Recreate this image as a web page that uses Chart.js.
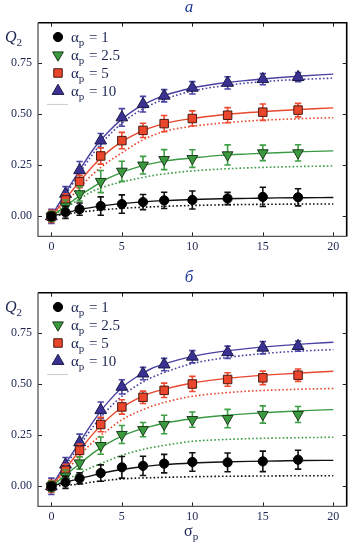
<!DOCTYPE html>
<html><head><meta charset="utf-8">
<script src="https://cdn.jsdelivr.net/npm/chart.js@4"></script>
<style>
body{margin:0;background:#fff;width:360px;height:546px;overflow:hidden;position:relative}
canvas{display:block;position:absolute;left:0}
</style>
</head><body>
<canvas id="ca" width="360" height="270" style="top:0"></canvas>
<canvas id="cb" width="360" height="276" style="top:270px"></canvas>
<script>
// ---------- data ----------
const alphaLabels = ['1', '2.5', '5', '10'];
const xObs = [0, 1, 2, 3.5, 5, 6.5, 8, 10, 12.5, 15, 17.5];
const xCurve = [0, 1, 2, 3, 4, 5, 6, 7, 8, 10, 12, 14, 16, 18, 20];
const xTicks = [0, 5, 10, 15, 20];
const yTicks = [0, 0.25, 0.5, 0.75];

// panel "а"
const a_obs1  = [0, 0.02, 0.035, 0.05, 0.06, 0.07, 0.078, 0.08, 0.087, 0.095, 0.093];
const a_obs25 = [0, 0.05, 0.11, 0.17, 0.22, 0.25, 0.277, 0.282, 0.30, 0.31, 0.31];
const a_obs5  = [0, 0.08, 0.17, 0.295, 0.37, 0.42, 0.453, 0.478, 0.494, 0.509, 0.519];
const a_obs10 = [0, 0.11, 0.225, 0.37, 0.483, 0.548, 0.589, 0.628, 0.652, 0.67, 0.68];
const a_err1  = [0.02, 0.03, 0.03, 0.045, 0.045, 0.037, 0.04, 0.044, 0.03, 0.047, 0.042];
const a_err25 = [0.025, 0.03, 0.035, 0.054, 0.049, 0.043, 0.049, 0.043, 0.049, 0.038, 0.04];
const a_err5  = [0.03, 0.03, 0.03, 0.04, 0.04, 0.035, 0.04, 0.037, 0.037, 0.04, 0.033];
const a_err10 = [0.035, 0.035, 0.043, 0.035, 0.043, 0.038, 0.03, 0.03, 0.03, 0.027, 0.022];
const a_fit1  = [0, 0.017, 0.033, 0.045, 0.055, 0.062, 0.068, 0.073, 0.077, 0.082, 0.086, 0.088, 0.09, 0.091, 0.092];
const a_dot1  = [0, 0.01, 0.02, 0.028, 0.034, 0.039, 0.043, 0.046, 0.049, 0.053, 0.056, 0.058, 0.059, 0.06, 0.06];
const a_fit25 = [0, 0.05, 0.1, 0.145, 0.185, 0.215, 0.238, 0.256, 0.27, 0.285, 0.298, 0.305, 0.311, 0.316, 0.32];
const a_dot25 = [0, 0.04, 0.085, 0.125, 0.15, 0.168, 0.183, 0.197, 0.207, 0.222, 0.231, 0.237, 0.241, 0.244, 0.246];
const a_fit5  = [0, 0.085, 0.17, 0.25, 0.315, 0.365, 0.403, 0.432, 0.453, 0.478, 0.495, 0.507, 0.516, 0.523, 0.53];
const a_dot5  = [0, 0.065, 0.14, 0.21, 0.265, 0.31, 0.355, 0.39, 0.415, 0.44, 0.455, 0.466, 0.473, 0.478, 0.482];
const a_fit10 = [0, 0.115, 0.225, 0.33, 0.41, 0.475, 0.525, 0.562, 0.59, 0.627, 0.65, 0.665, 0.677, 0.687, 0.695];
const a_dot10 = [0, 0.105, 0.21, 0.31, 0.39, 0.455, 0.505, 0.543, 0.572, 0.612, 0.636, 0.652, 0.663, 0.67, 0.675];

// panel "б"
const b_obs1  = [0, 0.02, 0.039, 0.065, 0.093, 0.1, 0.111, 0.119, 0.117, 0.122, 0.13];
const b_obs25 = [0, 0.05, 0.114, 0.199, 0.253, 0.277, 0.302, 0.326, 0.331, 0.351, 0.351];
const b_obs5  = [0, 0.078, 0.176, 0.302, 0.388, 0.435, 0.469, 0.5, 0.522, 0.53, 0.543];
const b_obs10 = [0, 0.106, 0.215, 0.372, 0.486, 0.551, 0.595, 0.633, 0.655, 0.677, 0.685];
const b_err1  = [0.02, 0.03, 0.027, 0.04, 0.053, 0.047, 0.045, 0.045, 0.046, 0.05, 0.046];
const b_err25 = [0.025, 0.03, 0.03, 0.042, 0.044, 0.035, 0.045, 0.037, 0.045, 0.042, 0.039];
const b_err5  = [0.03, 0.03, 0.03, 0.035, 0.035, 0.03, 0.035, 0.037, 0.033, 0.033, 0.03];
const b_err10 = [0.04, 0.035, 0.04, 0.04, 0.035, 0.03, 0.03, 0.03, 0.03, 0.03, 0.025];
const b_fit1  = [0, 0.02, 0.038, 0.055, 0.07, 0.082, 0.092, 0.1, 0.106, 0.114, 0.119, 0.122, 0.124, 0.126, 0.127];
const b_dot1  = [0, 0.005, 0.011, 0.022, 0.03, 0.036, 0.04, 0.042, 0.044, 0.047, 0.049, 0.05, 0.051, 0.052, 0.052];
const b_fit25 = [0, 0.055, 0.11, 0.165, 0.21, 0.245, 0.272, 0.292, 0.308, 0.33, 0.345, 0.355, 0.363, 0.37, 0.375];
const b_dot25 = [0, 0.03, 0.065, 0.097, 0.125, 0.152, 0.172, 0.188, 0.2, 0.22, 0.228, 0.233, 0.236, 0.238, 0.24];
const b_fit5  = [0, 0.085, 0.175, 0.26, 0.33, 0.385, 0.425, 0.455, 0.475, 0.505, 0.524, 0.537, 0.547, 0.555, 0.562];
const b_dot5  = [0, 0.07, 0.15, 0.22, 0.275, 0.325, 0.36, 0.388, 0.41, 0.44, 0.455, 0.465, 0.471, 0.475, 0.478];
const b_fit10 = [0, 0.11, 0.215, 0.32, 0.41, 0.482, 0.533, 0.572, 0.598, 0.635, 0.658, 0.674, 0.686, 0.696, 0.704];
const b_dot10 = [0, 0.1, 0.2, 0.295, 0.375, 0.44, 0.49, 0.528, 0.556, 0.6, 0.625, 0.642, 0.654, 0.662, 0.668];

// ---------- styles ----------
const lineCol = ['#111111', '#3a9a42', '#e9482e', '#4a42a2'];
const errCol  = ['#111111', '#3f9f45', '#ee4a30', '#4c44a6'];
const fillCol = ['#000000', '#3c9a3e', '#ea462c', '#3b3192'];
const edgeCol = ['#000000', '#1c3a1c', '#4a1a10', '#1a1a46'];
const pStyle  = ['circle', 'triangle', 'rect', 'triangle'];
const pRot    = [0, 180, 0, 0];
const pRad    = [4.6, 6.2, 6.0, 6.8];
const textCol = '#1b2552';
const SERIF = '"Liberation Serif", "Times New Roman", "DejaVu Serif", serif';

function pts(xs, ys) { return xs.map((x, i) => ({x: x, y: ys[i]})); }

function drawMarker(ctx, k, x, y) {
  ctx.save();
  ctx.fillStyle = fillCol[k]; ctx.strokeStyle = edgeCol[k]; ctx.lineWidth = 1;
  ctx.beginPath();
  const r = pRad[k];
  if (k === 0) { ctx.arc(x, y, r, 0, Math.PI * 2); }
  else if (k === 2) { const s = r * Math.SQRT1_2; ctx.rect(x - s, y - s, 2 * s, 2 * s); }
  else {
    const e = 3 * r / Math.sqrt(3), h = e * Math.sqrt(3) / 2;
    const d = k === 1 ? -1 : 1;
    ctx.moveTo(x - e / 2, y + d * h / 3);
    ctx.lineTo(x + e / 2, y + d * h / 3);
    ctx.lineTo(x, y - d * 2 * h / 3);
    ctx.closePath();
  }
  ctx.fill(); ctx.stroke();
  ctx.restore();
}

const deco = {
  id: 'deco',
  beforeDatasetDraw(chart, args) {
    const ds = chart.data.datasets[args.index];
    if (!ds.errs) return;
    const {ctx} = chart, xs = chart.scales.x, ys = chart.scales.y;
    ctx.save();
    ctx.strokeStyle = ds.errColor; ctx.lineWidth = 1.6;
    ds.data.forEach((p, i) => {
      const px = xs.getPixelForValue(p.x);
      const y1 = ys.getPixelForValue(p.y + ds.errs[i]);
      const y2 = ys.getPixelForValue(p.y - ds.errs[i]);
      ctx.beginPath();
      ctx.moveTo(px, y1); ctx.lineTo(px, y2);
      ctx.moveTo(px - 3.2, y1); ctx.lineTo(px + 3.2, y1);
      ctx.moveTo(px - 3.2, y2); ctx.lineTo(px + 3.2, y2);
      ctx.stroke();
    });
    ctx.restore();
  },
  afterDraw(chart) {
    const o = chart.options.plugins.deco;
    const {ctx, chartArea: a} = chart, xs = chart.scales.x, ys = chart.scales.y;
    ctx.save();
    // inward ticks
    ctx.strokeStyle = '#222'; ctx.lineWidth = 1;
    ctx.beginPath();
    xs.ticks.forEach(t => {
      const px = Math.round(xs.getPixelForValue(t.value)) + 0.5;
      ctx.moveTo(px, a.bottom); ctx.lineTo(px, a.bottom - 4);
      ctx.moveTo(px, a.top); ctx.lineTo(px, a.top + 4);
    });
    ys.ticks.forEach(t => {
      const py = Math.round(ys.getPixelForValue(t.value)) + 0.5;
      ctx.moveTo(a.left, py); ctx.lineTo(a.left + 4, py);
      ctx.moveTo(a.right, py); ctx.lineTo(a.right - 4, py);
    });
    ctx.stroke();
    // frame
    ctx.lineWidth = 1.6; ctx.strokeStyle = '#000';
    ctx.beginPath();
    ctx.moveTo(a.left, a.top); ctx.lineTo(a.right, a.top); ctx.lineTo(a.right, a.bottom);
    ctx.stroke();
    ctx.lineWidth = 1.3; ctx.strokeStyle = '#555';
    ctx.beginPath();
    ctx.moveTo(a.left, a.top); ctx.lineTo(a.left, a.bottom); ctx.lineTo(a.right, a.bottom);
    ctx.stroke();
    // panel title
    ctx.fillStyle = '#1f3a93';
    ctx.font = 'italic 17px ' + SERIF;
    ctx.textAlign = 'center'; ctx.textBaseline = 'alphabetic';
    ctx.fillText(o.title, 189, 12);
    // Q2 label
    ctx.fillStyle = textCol; ctx.textAlign = 'left';
    ctx.font = 'italic 16px ' + SERIF;
    ctx.fillText('Q', 5, 42);
    const qw = ctx.measureText('Q').width;
    ctx.font = '11px ' + SERIF;
    ctx.fillText('2', 5 + qw, 46);
    // legend
    const rows = [37, 55, 73, 91];
    alphaLabels.forEach((lab, k) => {
      drawMarker(ctx, k, 58, rows[k]);
      let x = 71; const base = rows[k] + 5;
      ctx.fillStyle = textCol;
      ctx.font = '15px ' + SERIF;
      ctx.fillText('α', x, base); x += ctx.measureText('α').width;
      ctx.font = '11px ' + SERIF;
      ctx.fillText('p', x, base + 3.5); x += ctx.measureText('p').width + 1;
      ctx.font = '15px ' + SERIF;
      ctx.fillText(' = ' + lab, x, base);
    });
    ctx.strokeStyle = '#cfcfcf'; ctx.lineWidth = 1.2;
    ctx.beginPath(); ctx.moveTo(47, 104.5); ctx.lineTo(68, 104.5); ctx.stroke();
    // x axis title
    if (o.xTitle) {
      ctx.fillStyle = textCol;
      ctx.font = '16px ' + SERIF;
      ctx.fillText('σ', 184, 266);
      const sw = ctx.measureText('σ').width;
      ctx.font = '11px ' + SERIF;
      ctx.fillText('p', 184 + sw, 269.5);
    }
    ctx.restore();
  }
};

function makeChart(id, title, obs, errs, fits, dots, height, xTitle) {
  const datasets = [];
  for (let k = 0; k < 4; k++) {
    datasets.push({
      data: pts(xObs, obs[k]), errs: errs[k], errColor: errCol[k],
      showLine: false, pointStyle: pStyle[k], rotation: pRot[k], pointRadius: pRad[k],
      backgroundColor: fillCol[k], borderColor: edgeCol[k], pointBorderWidth: 1,
      order: 0
    });
  }
  for (let k = 0; k < 4; k++) {
    datasets.push({
      data: pts(xCurve, fits[k]), showLine: true, pointRadius: 0,
      borderColor: lineCol[k], borderWidth: 1.4, cubicInterpolationMode: 'monotone',
      order: 2
    });
    datasets.push({
      data: pts(xCurve, dots[k]), showLine: true, pointRadius: 0,
      borderColor: lineCol[k], borderWidth: 1.6, borderDash: [1.6, 2.2],
      cubicInterpolationMode: 'monotone', order: 3
    });
  }
  return new Chart(document.getElementById(id), {
    type: 'scatter',
    data: {datasets},
    options: {
      responsive: false, animation: false, devicePixelRatio: 1,
      layout: {padding: {top: 22.7, right: 13.3, left: 0, bottom: 0}},
      plugins: {legend: {display: false}, tooltip: {enabled: false},
        deco: {title, xTitle}},
      scales: {
        x: {
          type: 'linear', min: -0.95, max: 20.95,
          afterBuildTicks: s => { s.ticks = xTicks.map(v => ({value: v})); },
          afterFit: s => { s.height = height - 236.4; },
          grid: {display: false, drawTicks: false}, border: {display: false},
          ticks: {padding: 3, color: textCol, font: {family: SERIF, size: 12}, maxRotation: 0,
            callback: v => String(v)}
        },
        y: {
          type: 'linear', min: -0.098, max: 0.946,
          afterBuildTicks: s => { s.ticks = yTicks.map(v => ({value: v})); },
          afterFit: s => { s.width = 38; },
          grid: {display: false, drawTicks: false}, border: {display: false},
          ticks: {padding: 6, color: textCol, font: {family: SERIF, size: 12},
            callback: v => v.toFixed(2)}
        }
      }
    },
    plugins: [deco]
  });
}

makeChart('ca', 'а',
  [a_obs1, a_obs25, a_obs5, a_obs10], [a_err1, a_err25, a_err5, a_err10],
  [a_fit1, a_fit25, a_fit5, a_fit10], [a_dot1, a_dot25, a_dot5, a_dot10], 270, false);
makeChart('cb', 'б',
  [b_obs1, b_obs25, b_obs5, b_obs10], [b_err1, b_err25, b_err5, b_err10],
  [b_fit1, b_fit25, b_fit5, b_fit10], [b_dot1, b_dot25, b_dot5, b_dot10], 276, true);
</script>
</body></html>
